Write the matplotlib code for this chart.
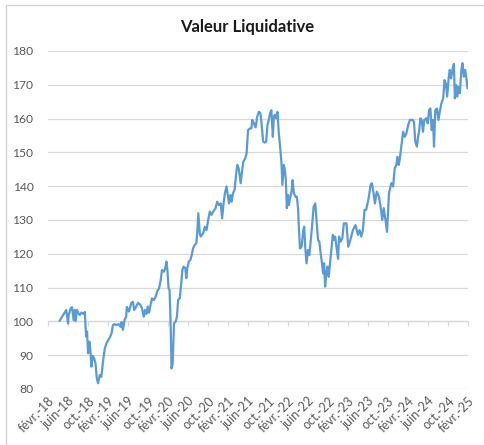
import matplotlib
matplotlib.use("Agg")
import matplotlib.pyplot as plt
import matplotlib.dates as mdates
import matplotlib.transforms as mtransforms
import pandas as pd
from matplotlib.patches import Rectangle

title = "Valeur Liquidative"

tick_labels = ["févr.-18", "juin-18", "oct.-18", "févr.-19", "juin-19", "oct.-19",
               "févr.-20", "juin-20", "oct.-20", "févr.-21", "juin-21", "oct.-21",
               "févr.-22", "juin-22", "oct.-22", "févr.-23", "juin-23", "oct.-23",
               "févr.-24", "juin-24", "oct.-24", "févr.-25"]
tick_dates = pd.date_range("2018-02-01", "2025-02-01", freq="4MS")

y_ticks = [80, 90, 100, 110, 120, 130, 140, 150, 160, 170, 180]

dates_2018 = ["04-13", "05-23", "06-03", "06-07", "06-19", "06-27", "07-07", "07-13", "07-19", "07-27",
              "08-05", "08-13", "08-23", "09-05", "09-13", "09-17", "09-21", "09-27", "10-03", "10-11",
              "10-17", "10-23", "11-01", "11-09", "11-17", "11-25", "12-03", "12-13", "12-23"]
values_2018 = [100.2, 103.4, 99.4, 101.9, 103.9, 104.2, 100.4, 103.4, 100.1, 103.4,
               102.4, 101.9, 102.6, 102.2, 102.8, 98.9, 95.5, 97.0, 90.6, 94.0,
               91.5, 86.6, 89.8, 89.1, 87.6, 83.2, 81.7, 84.1, 83.6]

dates_2019 = ["01-03", "01-13", "01-23", "02-03", "02-13", "02-23", "03-03", "03-13", "03-23", "04-07",
              "04-19", "04-25", "05-03", "05-13", "05-23", "05-27", "06-09", "06-23", "07-03", "07-11",
              "07-23", "08-03", "08-17", "08-27", "09-07", "09-15", "09-23", "10-01", "10-09", "10-17",
              "10-27", "11-07", "11-19", "11-27", "12-09", "12-19", "12-27"]
values_2019 = [88.6, 92.0, 93.5, 94.5, 95.3, 96.5, 98.9, 99.2, 98.9, 99.2,
               98.4, 99.8, 97.5, 100.4, 101.4, 104.3, 102.9, 105.4, 105.8, 103.4,
               104.4, 105.5, 104.9, 103.9, 101.4, 103.4, 102.2, 104.4, 102.6, 104.6,
               106.8, 106.3, 107.3, 108.8, 109.8, 112.2, 115.2]

dates_2020 = ["01-07", "01-15", "01-23", "01-29", "02-05", "02-11", "02-17", "02-23", "03-01", "03-05",
              "03-09", "03-19", "03-27", "04-03", "04-13", "04-23", "04-29", "05-07", "05-17", "05-23",
              "05-29", "06-07", "06-17", "06-25", "07-03", "07-13", "07-23", "07-29", "08-04", "08-13",
              "08-19", "09-03", "09-13", "09-23", "10-03", "10-13", "10-23", "11-03", "11-17", "11-27",
              "12-07", "12-19", "12-27"]
values_2020 = [114.7, 115.6, 117.7, 115.2, 109.8, 109.3, 100.4, 86.1, 87.6, 93.5,
               99.4, 99.9, 101.4, 106.3, 106.8, 111.7, 115.2, 116.2, 115.7, 112.8,
               115.7, 117.7, 118.2, 119.6, 121.6, 122.6, 123.1, 126.5, 132.0, 126.1,
               125.1, 126.1, 128.0, 127.0, 130.0, 132.5, 131.5, 132.5, 133.5, 135.4,
               134.4, 134.9, 130.5]

dates_2021 = ["01-05", "01-13", "01-23", "02-01", "02-07", "02-15", "02-23", "03-03", "03-13", "03-23",
              "03-29", "04-07", "04-19", "04-27", "05-05", "05-17", "05-25", "06-03", "06-13", "06-23",
              "06-29", "07-09", "07-19", "07-29", "08-07", "08-17", "08-23", "09-03", "09-13", "09-21",
              "09-29", "10-07", "10-15", "10-23", "11-01", "11-07", "11-13", "11-21", "11-29", "12-07",
              "12-15", "12-23", "12-29"]
values_2021 = [134.9, 137.9, 139.9, 136.9, 134.9, 137.4, 135.4, 137.9, 138.9, 143.8,
               146.3, 145.3, 140.9, 144.3, 147.2, 148.3, 149.7, 156.6, 157.1, 157.1,
               159.6, 158.6, 157.4, 160.6, 162.0, 161.6, 159.1, 153.2, 152.9, 153.2,
               158.1, 159.6, 161.6, 162.5, 154.6, 160.6, 161.1, 160.1, 162.0, 155.7,
               151.7, 147.2, 140.4]

dates_2022 = ["01-07", "01-13", "01-19", "01-25", "02-01", "02-07", "02-13", "02-23", "03-01", "03-09",
              "03-19", "03-27", "04-03", "04-09", "04-15", "04-25", "05-05", "05-11", "05-17", "05-25",
              "06-03", "06-11", "06-19", "06-29", "07-07", "07-17", "07-25", "08-03", "08-11", "08-19",
              "08-27", "09-03", "09-09", "09-15", "09-23", "09-29", "10-07", "10-15", "10-23", "11-01",
              "11-07", "11-15", "11-23", "12-03", "12-09", "12-19", "12-29"]
values_2022 = [146.3, 144.8, 141.8, 133.5, 137.4, 134.4, 136.4, 138.4, 141.8, 137.9,
               136.9, 136.9, 133.5, 127.0, 121.6, 122.1, 127.0, 128.0, 122.1, 117.2,
               121.1, 119.6, 123.6, 129.0, 133.9, 134.9, 130.0, 124.1, 123.6, 120.1,
               117.2, 114.2, 117.2, 110.3, 114.2, 116.2, 113.2, 117.2, 121.1, 125.6,
               124.1, 125.1, 122.1, 118.5, 125.1, 123.6, 124.6]

dates_2023 = ["01-07", "01-23", "02-03", "02-16", "03-03", "03-19", "04-03", "04-13", "04-23", "05-03",
              "05-13", "05-23", "06-07", "06-19", "06-27", "07-07", "07-15", "07-27", "08-09", "08-19",
              "08-29", "09-07", "09-19", "09-27", "10-09", "10-23", "11-03", "11-13", "11-23", "11-29",
              "12-07", "12-13", "12-23"]
values_2023 = [129.0, 129.0, 122.1, 124.1, 127.0, 128.5, 125.6, 127.0, 125.1, 127.0,
               133.0, 133.0, 136.4, 140.4, 140.9, 138.0, 134.9, 138.4, 136.9, 133.9,
               130.0, 133.5, 129.5, 126.5, 137.9, 140.9, 139.9, 145.3, 146.3, 148.7,
               146.3, 147.8, 151.7]

dates_2024 = ["01-03", "01-13", "01-23", "02-03", "02-13", "03-01", "03-09", "03-17", "03-27", "04-03",
              "04-09", "04-17", "04-25", "05-03", "05-11", "05-23", "06-01", "06-09", "06-17", "06-25",
              "07-03", "07-09", "07-17", "07-27", "08-05", "08-13", "08-23", "09-03", "09-11", "09-19",
              "09-27", "10-07", "10-13", "10-21", "10-29", "11-07", "11-13", "11-21", "11-27", "12-05",
              "12-13", "12-23", "12-29"]
values_2024 = [156.1, 154.6, 155.7, 158.1, 159.6, 159.6, 159.1, 153.2, 151.7, 154.6,
               156.1, 160.1, 159.6, 156.1, 159.6, 160.1, 158.6, 162.5, 163.0, 156.6,
               159.6, 151.7, 162.5, 163.0, 159.6, 162.0, 164.5, 166.0, 171.4, 170.4,
               166.5, 172.4, 174.4, 171.9, 174.4, 176.2, 166.0, 169.9, 166.5, 169.4,
               167.5, 174.4, 176.4]

dates_2025 = ["01-07", "01-15", "01-22", "01-29"]
values_2025 = [172.4, 174.4, 172.0, 169.0]

years = {2018: (dates_2018, values_2018), 2019: (dates_2019, values_2019),
         2020: (dates_2020, values_2020), 2021: (dates_2021, values_2021),
         2022: (dates_2022, values_2022), 2023: (dates_2023, values_2023),
         2024: (dates_2024, values_2024), 2025: (dates_2025, values_2025)}

all_dates, all_values = [], []
for yr, (ds, vs) in years.items():
    all_dates += [pd.Timestamp(f"{yr}-{d}") for d in ds]
    all_values += vs

plt.rcParams["font.family"] = ["Lato", "DejaVu Sans"]

W, H = 485, 445
fig = plt.figure(figsize=(W / 100, H / 100), dpi=100)
fig.patch.set_facecolor("white")
ax = fig.add_axes([48 / W, (H - 389) / H, 420 / W, 338 / H])

line_color = "#5B9BD5"
grid_color = "#D9D9D9"
text_color = "#595959"

ax.plot(all_dates, all_values, color=line_color, lw=1.6, solid_joinstyle="round", zorder=3)

x0 = mdates.date2num(tick_dates[0])
x1 = mdates.date2num(tick_dates[-1])
ax.set_xlim(x0, x1)
ax.set_ylim(80, 180)
ax.set_yticks(y_ticks)
ax.yaxis.grid(True, color=grid_color, lw=0.9)
ax.set_axisbelow(True)
for s in ax.spines.values():
    s.set_visible(False)

ax.tick_params(axis="y", length=0, pad=10.5, labelsize=8.7, labelcolor=text_color)
ax.set_xticks(mdates.date2num(tick_dates))
ax.set_xticklabels(tick_labels, rotation=45, ha="right", va="center",
                   rotation_mode="anchor", fontsize=9, color=text_color)
ax.tick_params(axis="x", length=0, pad=7)
shift = mtransforms.ScaledTranslation(4.5 / 100, 0, fig.dpi_scale_trans)
for lbl in ax.get_xticklabels():
    lbl.set_transform(lbl.get_transform() + shift)

# horizontal axis crossing at 100 with outward tick marks
sec = ax.secondary_xaxis(0.2)
sec.set_xticks(mdates.date2num(tick_dates))
sec.tick_params(axis="x", direction="out", length=3.5, width=0.9, color=grid_color,
                labelbottom=False, labeltop=False)
sec.spines["bottom"].set_color(grid_color)
sec.spines["bottom"].set_linewidth(0.9)

fig.text(247 / W, 1 - 32 / H, title, ha="center", va="baseline",
         fontsize=12, fontweight="bold", color="#1a1a1a")

fig.patches.append(Rectangle((6 / W, -0.1), 1.2, 1 - 5 / H + 0.1,
                             transform=fig.transFigure, fill=False,
                             ec="#CFCFCF", lw=0.9))

fig.savefig("out.png", dpi=100, facecolor="white")
